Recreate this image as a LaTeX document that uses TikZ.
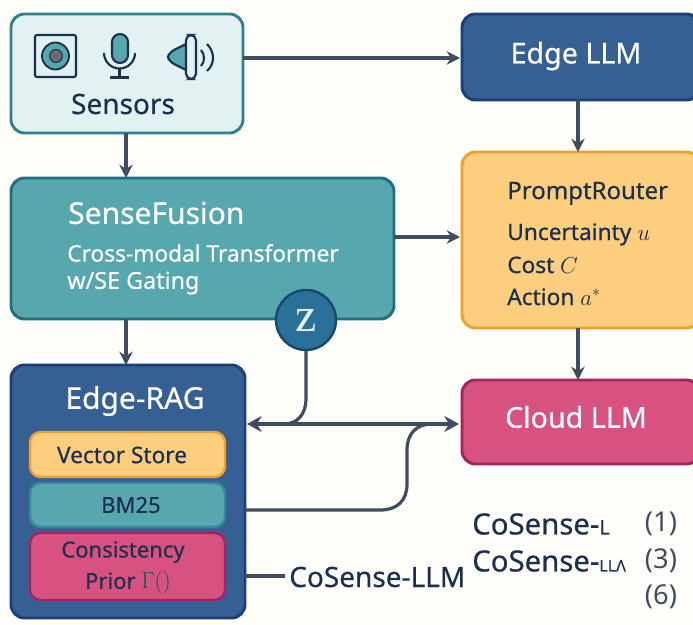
\documentclass[tikz,border=0pt]{standalone}
\usepackage{fontspec}
\setmainfont{Noto Sans}[FakeBold=0.5]
\newfontfamily\numfont{Noto Sans}
\newfontfamily\serifz{Liberation Serif}
\usetikzlibrary{arrows.meta}
\definecolor{ink}{HTML}{1B2F4E}
\definecolor{wire}{HTML}{3F4D5E}
\definecolor{tealf}{HTML}{57A8AE}
\definecolor{teald}{HTML}{1F6F80}
\definecolor{palef}{HTML}{E2F1F1}
\definecolor{bluef}{HTML}{365F94}
\definecolor{blued}{HTML}{1C3F78}
\definecolor{yelf}{HTML}{FDCE7E}
\definecolor{yeld}{HTML}{EBA12C}
\definecolor{pinkf}{HTML}{D75280}
\definecolor{pinkd}{HTML}{A3235E}
\definecolor{zf}{HTML}{2A7098}
\definecolor{zd}{HTML}{17486F}
\definecolor{paper}{HTML}{FFFEFB}
\tikzset{
  x=0.75pt,y=-0.75pt,
  card/.style={rounded corners=13.5pt*0.75,line width=2.2pt},
  sub/.style={rounded corners=10.5pt*0.75,line width=1.8pt},
  lab/.style={inner sep=0pt,text=ink,font=\fontsize{20}{24}\selectfont},
  wlab/.style={inner sep=0pt,text=white,font=\fontsize{20}{24}\selectfont},
  small/.style={inner sep=0pt,text=ink,font=\fontsize{17}{20}\selectfont,anchor=base west},
  arr/.style={draw=wire,line width=2.4pt,-{Stealth[length=10pt,width=10pt]}},
  lin/.style={draw=wire,line width=2.4pt},
  ico/.style={draw=ink,line width=1.6pt}
}
\begin{document}
\begin{tikzpicture}
\useasboundingbox (0,0) rectangle (693,625);
\fill[paper] (0,0) rectangle (693,625);
% boxes
\path[card,draw=teald!70!tealf,fill=palef] (11,14) rectangle (243,133);
\coordinate (sensE) at (243,58);
\coordinate (sensS) at (126,133);
\path[card,draw=blued,fill=bluef] (462,14) rectangle (700,100);
\coordinate (edgeW) at (460,58);
\coordinate (edgeS) at (578,100);
\path[card,draw=teald,fill=tealf] (11,178) rectangle (394,319);
\coordinate (sfN) at (126,178);
\coordinate (sfE) at (394,237);
\coordinate (sfS) at (126,319);
\path[card,draw=yeld,fill=yelf] (462,152) rectangle (700,328);
\coordinate (prN) at (578,152);
\coordinate (prW) at (460,237);
\coordinate (prS) at (578,328);
\path[card,draw=pinkd,fill=pinkf] (462,380) rectangle (700,464);
\coordinate (clN) at (578,380);
\coordinate (clW) at (459,424);
\path[card,draw=blued,fill=bluef] (11,365) rectangle (245,618);
\coordinate (ragN) at (126,365);
\coordinate (ragE) at (247,424);
\coordinate (ragB) at (245,510);
\coordinate (ragL) at (245,576);
\path[sub,draw=yeld,fill=yelf] (30,432) rectangle (225,477);
\path[sub,draw=teald!55!tealf,fill=tealf] (30,483) rectangle (225,527);
\path[sub,draw=pinkd,fill=pinkf] (30,533) rectangle (225,600);
% sensor icons
\draw[ico,rounded corners=1.5pt] (35,35) rectangle (76,77);
\fill[tealf,draw=ink,line width=1.4pt] (55.5,56) circle (13.5);
\fill[gray!75!ink,draw=ink,line width=0.8pt] (56,56) circle (6.5);
\draw[ico] (104,53) arc[start angle=180,end angle=0,radius=15.5];
\draw[ico,fill=tealf,rounded corners=8pt*0.75] (112,34) rectangle (128,63);
\draw[ico] (119.5,69) -- (119.5,77) (110,77.5) -- (129,77.5);
\draw[ico,fill=tealf,rounded corners=2pt] (188,43) -- (172,51) -- (167,57) -- (172,63) -- (188,71) -- cycle;
\draw[ico,fill=palef,rounded corners=4pt] (186,35) rectangle (196,79);
\draw[ico] (201,50) .. controls (205,54) and (205,62) .. (201,66);
\draw[ico] (207,44) .. controls (215,52) and (215,64) .. (207,71);
% connectors
\draw[arr] (sensE) -- (edgeW);
\draw[arr] (sensS) -- (sfN);
\draw[arr] (sfE) -- (prW);
\draw[arr] (sfS) -- (ragN);
\draw[arr] (edgeS) -- (prN);
\draw[arr] (prS) -- (clN);
\draw[draw=wire,line width=2.4pt,{Stealth[length=11pt,width=12pt]}-{Stealth[length=11pt,width=12pt]}] (ragE) -- (clW);
% z circle
\node[circle,draw=zd,fill=zf,line width=1.8pt,minimum size=60*0.75pt,inner sep=0pt,text=palef,font=\serifz\fontsize{36}{36}\selectfont] (zc) at (306,320) {z};
\coordinate (zjoin) at (284,424);
\coordinate (bjoin) at (432,424);
\coordinate (cosW) at (285,576);
\draw[lin] (zc.south) -- (306,398) .. controls (306,416) and (296,424) .. (zjoin);
\draw[lin] (ragB) -- (380,510) .. controls (398,510) and (407,500) .. (407,484) -- (407,450) .. controls (407,434) and (416,424) .. (bjoin);
\draw[lin] (ragL) -- (cosW);
% labels
\node[lab,font=\fontsize{21}{24}\selectfont] (t1) at (123,104) {Sensors};
\node[wlab,font=\fontsize{21.5}{24}\selectfont] (t2) at (576,56) {Edge LLM};
\node[wlab,anchor=west,font=\fontsize{22.5}{25}\selectfont] (t3) at (68,213) {SenseFusion};
\node[inner sep=0pt,anchor=west,text=white,font=\fontsize{17}{19}\selectfont] (t4) at (67,253) {Cross-modal Transformer};
\node[inner sep=0pt,anchor=west,text=white,font=\fontsize{17.5}{19}\selectfont] (t5) at (67,283) {w/SE Gating};
\node[small,font=\fontsize{18}{20}\selectfont] (t6) at (507,199) {PromptRouter};
\node[small] (t7) at (507,240) {Uncertainty \fontsize{18}{20}\selectfont$u$};
\node[small] (t8) at (507,273) {Cost \fontsize{18}{20}\selectfont$C$};
\node[small] (t9) at (507,305) {Action \fontsize{18}{20}\selectfont$a^{*}$};
\node[wlab,font=\fontsize{21.5}{24}\selectfont] (t10) at (576,417) {Cloud LLM};
\node[wlab,font=\fontsize{22.5}{24}\selectfont] (t11) at (135,401) {Edge-RAG};
\node[small,anchor=center] (t12) at (122,455) {Vector Store};
\node[small,anchor=center,font=\fontsize{16.5}{20}\selectfont] (t13) at (131,505) {BM25};
\node[small,anchor=center,font=\fontsize{16.5}{20}\selectfont] (t14) at (123,552) {Consistency};
\node[small,anchor=center,font=\fontsize{16.5}{20}\selectfont] (t15) at (128,583) {Prior {\color{teald!70!black}\fontsize{19}{20}\selectfont$\Gamma()$}};
\node[lab,anchor=west,font=\fontsize{21}{24}\selectfont] (t16) at (289,577) {CoSense-LLM};
\node[lab,anchor=west,font=\fontsize{22}{26}\selectfont] (t17) at (472,524) {CoSense-{\fontsize{15}{15}\selectfont L}};
\node[lab,anchor=west,font=\fontsize{22}{26}\selectfont] (t18) at (472,561) {CoSense-{\fontsize{12}{12}\selectfont LLΛ}};
\node[inner sep=0pt,text=wire,font=\numfont\fontsize{20.5}{24}\selectfont] (t19) at (661,524) {(1)};
\node[inner sep=0pt,text=wire,font=\numfont\fontsize{20.5}{24}\selectfont] (t20) at (661,561) {(3)};
\node[inner sep=0pt,text=wire,font=\numfont\fontsize{20.5}{24}\selectfont] (t21) at (661,597) {(6)};
\end{tikzpicture}
\end{document}
